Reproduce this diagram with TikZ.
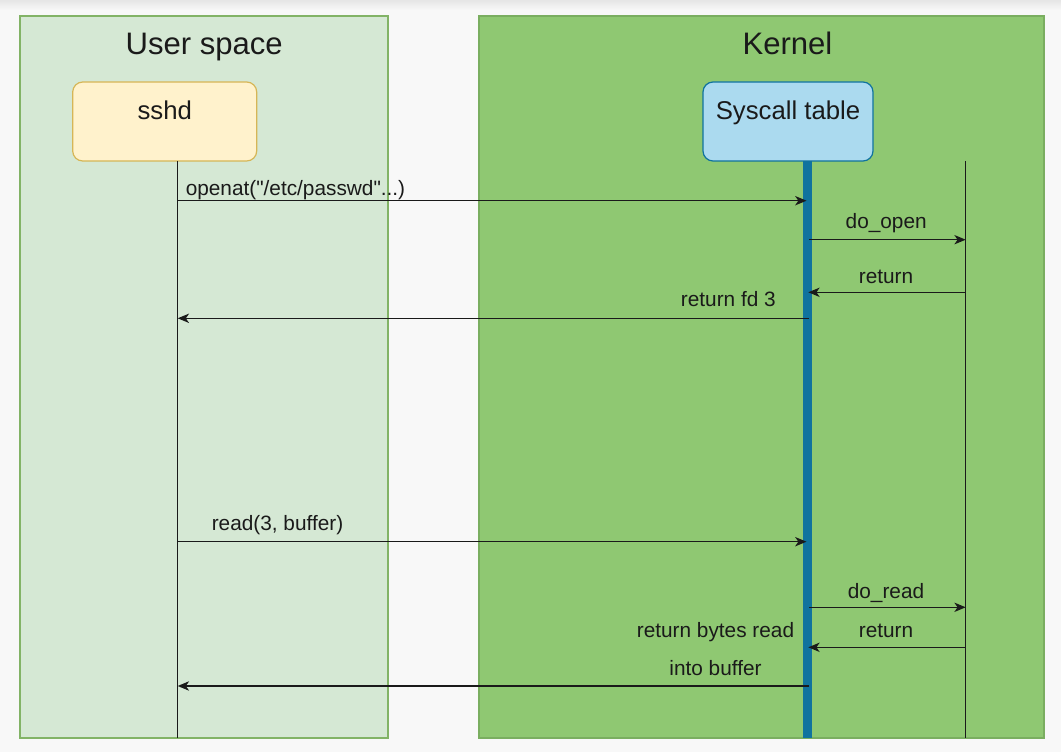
\documentclass[tikz,border=0pt]{standalone}
\usepackage{fontspec}
\setmainfont{Liberation Sans}
\usetikzlibrary{arrows.meta,calc}
\definecolor{bgc}{HTML}{F8F8F8}
\definecolor{userfill}{HTML}{D5E8D4}
\definecolor{userline}{HTML}{82B366}
\definecolor{kernfill}{HTML}{8FC872}
\definecolor{kernline}{HTML}{7AAE60}
\definecolor{sshdfill}{HTML}{FFF2CC}
\definecolor{sshdline}{HTML}{D6B656}
\definecolor{sysfill}{HTML}{ABDAEF}
\definecolor{sysline}{HTML}{10739E}
\definecolor{ink}{HTML}{1A1A1A}
\tikzset{
  panel/.style={draw=#1, line width=1.1pt},
  title/.style={anchor=base, inner sep=0pt, font=\fontsize{23.3}{28}\selectfont, text=ink},
  boxlabel/.style={anchor=base, inner sep=0pt, font=\fontsize{19.3}{23}\selectfont, text=ink},
  msglabel/.style={inner sep=0pt, font=\fontsize{15.6}{19}\selectfont, text=ink},
  actor/.style={rounded corners=7.5pt, line width=0.9pt, minimum width=#1, minimum height=59.25pt, inner sep=0pt},
  lifeline/.style={draw=ink, line width=1.05pt},
  msg/.style={draw=ink, line width=1.05pt, -{Stealth[length=8.5pt,width=7pt,inset=2.4pt]}},
}
\begin{document}
\begin{tikzpicture}[x=0.75pt,y=-0.75pt]
\useasboundingbox (0,0) rectangle (1061,752);
\fill[bgc] (0,0) rectangle (1061,752);
\shade[top color=black!10, bottom color=bgc] (0,0) rectangle (1061,10);
% panels
\filldraw[panel=userline, fill=userfill] (20,16) rectangle (388,738);
\filldraw[panel=kernline, fill=kernfill] (479,16) rectangle (1044,738);
\node[title] (tuser) at (204.2,54.3) {User space};
\node[title] (tkern) at (787.5,54.3) {Kernel};
% actors
\node[actor=138pt, draw=sshdline, fill=sshdfill] (sshd) at (164.7,121.5) {};
\node[boxlabel] (sshdt) at ($(sshd.north)+(0,38)$) {sshd};
\node[actor=127.5pt, draw=sysline, fill=sysfill] (sys) at (788,121.5) {};
\node[boxlabel] (syst) at ($(sys.north)+(0,38)$) {Syscall table};
% lifelines
\coordinate (uTop) at (177.7,161);
\coordinate (uBot) at (177.7,738);
\coordinate (kTop) at (807.5,161);
\coordinate (kBot) at (807.5,738);
\coordinate (rTop) at (965.7,161);
\coordinate (rBot) at (965.7,738);
\draw[lifeline] (uTop) -- (uBot);
\draw[lifeline] (rTop) -- (rBot);
\draw[draw=sysline, line width=6.3pt] (kTop) -- (kBot);
% message end points
\coordinate (m1a) at (177.7,200.7);
\coordinate (m1b) at (806.5,200.7);
\coordinate (m2a) at (809,239.7);
\coordinate (m2b) at (965.7,239.7);
\coordinate (m3a) at (965.7,292.3);
\coordinate (m3b) at (808.3,292.3);
\coordinate (m4a) at (809,318.3);
\coordinate (m4b) at (177.7,318.3);
\coordinate (m5a) at (177.7,541.7);
\coordinate (m5b) at (806.5,541.7);
\coordinate (m6a) at (809,607.3);
\coordinate (m6b) at (965.7,607.3);
\coordinate (m7a) at (965.7,647.3);
\coordinate (m7b) at (808.3,647.3);
\coordinate (m8a) at (809,686);
\coordinate (m8b) at (177.7,686);
\draw[msg] (m1a) -- (m1b);
\draw[msg] (m2a) -- (m2b);
\draw[msg] (m3a) -- (m3b);
\draw[msg] (m4a) -- (m4b);
\draw[msg] (m5a) -- (m5b);
\draw[msg] (m6a) -- (m6b);
\draw[msg] (m7a) -- (m7b);
\draw[msg] (m8a) -- (m8b);
% labels
\node[msglabel, anchor=base west] (l1) at (185.5,195.7) {openat(\textquotedbl/etc/passwd\textquotedbl...)};
\node[msglabel, anchor=base] (l2) at (886.2,228.3) {do\_open};
\node[msglabel, anchor=base] (l3) at (886,284) {return};
\node[msglabel, anchor=base east] (l4) at (776,306.7) {return fd 3};
\node[msglabel, anchor=base] (l5) at (277.5,530.5) {read(3, buffer)};
\node[msglabel, anchor=base] (l6) at (886,598) {do\_read};
\node[msglabel, anchor=base] (l7) at (886,637.7) {return};
\node[msglabel, anchor=base] (l8a) at (715.5,637.7) {return bytes read};
\node[msglabel, anchor=base] (l8b) at (715.5,675) {into buffer};
\end{tikzpicture}
\end{document}
